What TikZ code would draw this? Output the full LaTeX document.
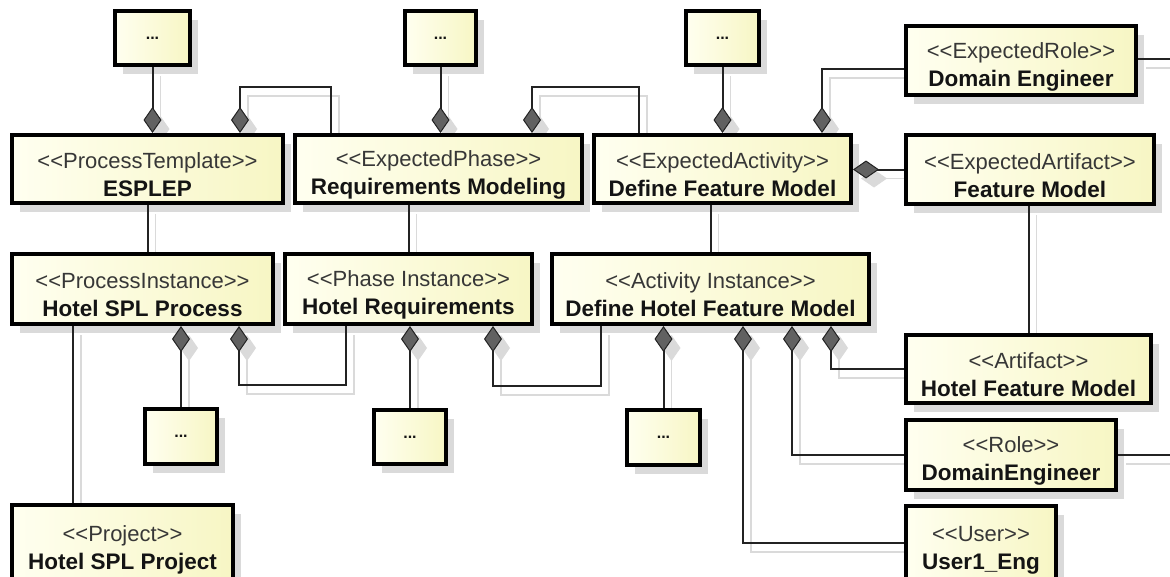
\documentclass[tikz,border=0pt]{standalone}
\usepackage{fontspec}
\setmainfont{Liberation Sans}
\usetikzlibrary{arrows.meta,shadows}

\definecolor{boxlight}{RGB}{255,255,240}
\definecolor{boxdark}{RGB}{247,246,196}
\definecolor{shadowgray}{RGB}{218,218,218}
\definecolor{linkgray}{RGB}{35,35,35}
\definecolor{stereogray}{RGB}{55,55,55}

\pgfdeclarelayer{shadowlayer}
\pgfsetlayers{shadowlayer,main}

% stereotype text: the kerns keep << and >> from turning into guillemets
\newcommand\umlstereo[1]{{\color{stereogray}\rule{0pt}{28pt}<\kern0pt<#1>\kern0pt>}}
\newcommand\umlclass[2]{\umlstereo{#1}\\[0pt]{\fontsize{22.5}{27}\selectfont\bfseries #2}}

\tikzset{
  box/.style={draw=black, line width=3.6pt, inner sep=0pt, align=center,
    left color=boxlight, right color=boxdark, text=black!92,
    drop shadow={shadow xshift=8pt, shadow yshift=-9pt, fill=shadowgray, opacity=1},
    font=\fontsize{22}{28}\selectfont},
  dotsbox/.style={box, font=\fontsize{16}{18}\selectfont\bfseries},
  link/.style={draw=linkgray, line width=2pt},
  comp/.style={link, -{Diamond[length=26pt,width=18pt,line width=1pt,fill=black!62]}},
}

% every connector of the diagram, drawn once as shadow and once on top
\newcommand\umllinks{%
  % upper row: compositions
  \draw[comp] (dots1.south) -- (dots1.south |- esplep.north);
  \draw[comp] (dots2.south) -- (dots2.south |- reqmod.north);
  \draw[comp] (dots3.south) -- (dots3.south |- deffm.north);
  \draw[comp] ([xshift=38pt]reqmod.north west) -- ++(0,-46) -| ([xshift=-45pt]esplep.north east);
  \draw[comp] ([xshift=47pt]deffm.north west) -- ++(0,-46) -| ([xshift=-52pt]reqmod.north east);
  \draw[comp] ([yshift=-8.5pt]domeng.west) -| ([xshift=-31pt]deffm.north east);
  \draw[comp] (featm.west) -- (featm.west -| deffm.east);
  \draw[link] ([yshift=1.5pt]domeng.east) -- ([yshift=1.5pt]domeng.east -| edgeR);
  % template to instance links
  \draw[link] (esplep.south) -- (esplep.south |- procinst.north);
  \draw[link] (phaseinst.north) -- (phaseinst.north |- reqmod.south);
  \draw[link] (actinst.north) -- (actinst.north |- deffm.south);
  \draw[link] (hfm.north) -- (hfm.north |- featm.south);
  \draw[link] ([xshift=63pt]procinst.south west) -- ([xshift=63pt]project.north west);
  % lower row: compositions
  \draw[comp] (dots4.north) -- (dots4.north |- procinst.south);
  \draw[comp] ([xshift=63pt]phaseinst.south west) -- ++(0,59) -| ([xshift=-36pt]procinst.south east);
  \draw[comp] (dots5.north) -- (dots5.north |- phaseinst.south);
  \draw[comp] ([xshift=51pt]actinst.south west) -- ++(0,60) -| ([xshift=-41pt]phaseinst.south east);
  \draw[comp] (dots6.north) -- (dots6.north |- actinst.south);
  \draw[comp] ([yshift=1pt]user.west) -| ([xshift=193pt]actinst.south west);
  \draw[comp] (role.west) -| ([xshift=242pt]actinst.south west);
  \draw[comp] (hfm.west) -| ([xshift=-40pt]actinst.south east);
  \draw[link] (role.east) -- (role.east -| edgeR);
}

\begin{document}
\begin{tikzpicture}[x=1pt, y=-1pt]
\useasboundingbox (0,0) rectangle (1170,576);
\coordinate (edgeR) at (1180,0);

% upper "..." boxes
\node[dotsbox, minimum width=75.4pt, minimum height=54.4pt] (dots1) at (152.5,38) {...};
\node[dotsbox, minimum width=71.4pt, minimum height=54.4pt] (dots2) at (440.5,38) {...};
\node[dotsbox, minimum width=73.4pt, minimum height=54.4pt] (dots3) at (722.5,38) {...};

% expected (template) elements
\node[box, minimum width=271.4pt, minimum height=68.4pt] (esplep) at (147.5,169)
  {\umlclass{ProcessTemplate}{ESPLEP}};
\node[box, minimum width=287.4pt, minimum height=68.4pt] (reqmod) at (438.5,169)
  {\umlclass{ExpectedPhase}{Requirements Modeling}};
\node[box, minimum width=257.4pt, minimum height=68.4pt] (deffm) at (722.5,169)
  {\umlclass{ExpectedActivity}{Define Feature Model}};
\node[box, minimum width=230.4pt, minimum height=69.4pt] (domeng) at (1021,60.5)
  {\umlclass{ExpectedRole}{Domain Engineer}};
\node[box, minimum width=248.4pt, minimum height=69.4pt] (featm) at (1030,169.5)
  {\umlclass{ExpectedArtifact}{Feature Model}};

% instance elements
\node[box, minimum width=261.4pt, minimum height=70.4pt] (procinst) at (142.5,289)
  {\umlclass{ProcessInstance}{Hotel SPL Process}};
\node[box, minimum width=247.4pt, minimum height=70.4pt] (phaseinst) at (408.5,289)
  {\umlclass{Phase Instance}{Hotel Requirements}};
\node[box, minimum width=317.4pt, minimum height=70.4pt] (actinst) at (710.5,289)
  {\umlclass{Activity Instance}{Define Hotel Feature Model}};
\node[box, minimum width=245.4pt, minimum height=68.4pt] (hfm) at (1028.5,369)
  {\umlclass{Artifact}{Hotel Feature Model}};
\node[box, minimum width=210.4pt, minimum height=70.4pt] (role) at (1011,455)
  {\umlclass{Role}{DomainEngineer}};
\node[box, minimum width=150.4pt, minimum height=76.4pt] (user) at (981,544)
  {\umlclass{User}{User1\_Eng}};
\node[box, minimum width=221.4pt, minimum height=78.4pt] (project) at (122.5,544)
  {\umlclass{Project}{Hotel SPL Project}};

% lower "..." boxes
\node[dotsbox, minimum width=72.4pt, minimum height=55.4pt] (dots4) at (181,436.5) {...};
\node[dotsbox, minimum width=72.4pt, minimum height=54.4pt] (dots5) at (410,437) {...};
\node[dotsbox, minimum width=73.4pt, minimum height=55.4pt] (dots6) at (663.5,437.5) {...};

% connector shadows, behind everything
\begin{pgfonlayer}{shadowlayer}
\begin{scope}[transform canvas={shift={(8pt,-9pt)}},
    link/.style={draw=shadowgray, line width=1.8pt},
    comp/.style={link, -{Diamond[length=26pt,width=18pt,line width=1pt,fill=shadowgray]}}]
  \umllinks
\end{scope}
\end{pgfonlayer}

% connectors
\umllinks
\end{tikzpicture}
\end{document}
